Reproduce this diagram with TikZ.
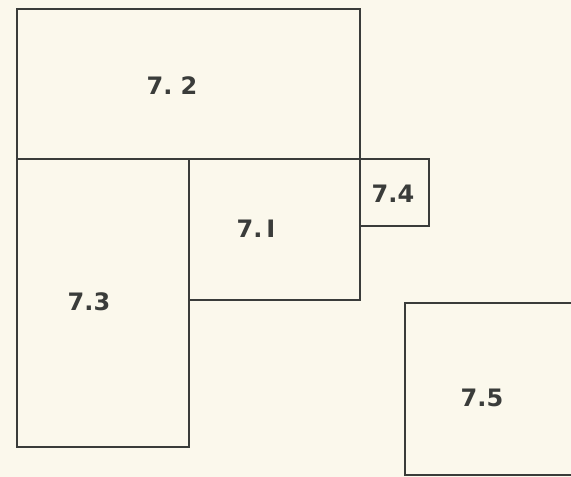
\documentclass[tikz,border=0pt]{standalone}
\usepackage{fontspec}
\setmainfont{DejaVu Sans}
\definecolor{bg}{HTML}{FBF8EC}
\definecolor{ink}{HTML}{3A3C3A}
\begin{document}
\begin{tikzpicture}[x=1pt,y=-1pt,
  wall/.style={draw=ink,line width=2.8pt,line cap=rect},
  lbl/.style={text=ink,font=\bfseries\fontsize{24}{24}\selectfont,inner sep=0pt}]
\fill[bg] (0,0) rectangle (571,477);
\useasboundingbox (0,0) rectangle (571,477);
% rooms
\draw[wall] (17,9) rectangle (360,159);
\draw[wall] (17,159) rectangle (189,447);
\draw[wall] (189,159) rectangle (360,300);
\draw[wall] (360,159) rectangle (429,226);
\coordinate (r5a) at (573,303);
\coordinate (r5b) at (405,303);
\coordinate (r5c) at (405,475);
\coordinate (r5d) at (573,475);
\draw[wall,line cap=butt] (r5a) -- (r5b) -- (r5c) -- (r5d);
% labels
\node[lbl] (l72) at (172,86) {7.\,\,2};
\node[lbl] (l71) at (256,229) {7.\,I};
\node[lbl] (l73) at (89,302) {7.3};
\node[lbl] (l74) at (393,194) {7.4};
\node[lbl] (l75) at (482,398) {7.5};
\end{tikzpicture}
\end{document}
